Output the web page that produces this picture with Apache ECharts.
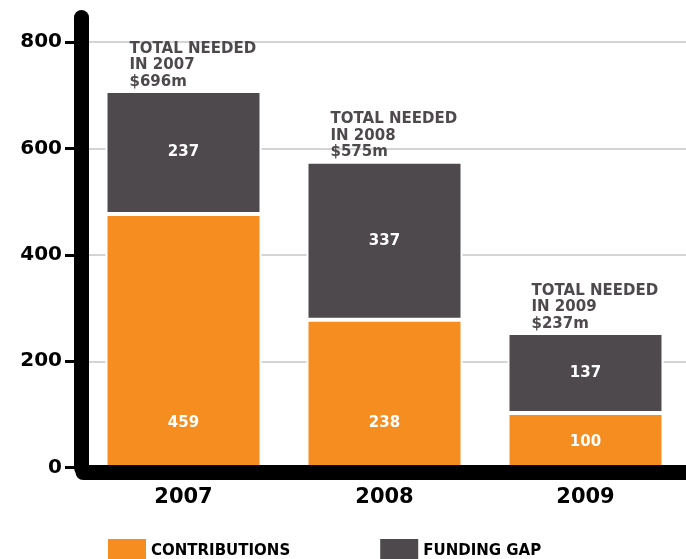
<!DOCTYPE html>
<html>
<head>
  <meta charset="utf-8">
  <title>Total needed</title>
  <script src="https://cdn.jsdelivr.net/npm/echarts@6/dist/echarts.min.js"></script>
  <style>
    html, body { margin: 0; padding: 0; background: #ffffff; }
    #chart { width: 686px; height: 559px; }
  </style>
</head>
<body>
<div id="chart"></div>
<script>
  // years on the x axis
  var years = ['2007', '2008', '2009']
  // bar heights as drawn in the picture
  var contributions = [477, 278, 103]
  var fundingGap = [231, 297, 150]
  // numbers printed on the bars
  var contributionLabels = [459, 238, 100]
  var gapLabels = [237, 337, 137]
  var totals = [696, 575, 237]
  var yTicks = [0, 200, 400, 600, 800]

  var orange = '#f68d21'
  var grey = '#4d494c'
  var font = 'DejaVu Sans'

  var chart = echarts.init(document.getElementById('chart'), null, { renderer: 'canvas' })

  var contribData = contributions.map(function (v, i) {
    var item = { value: v, text: contributionLabels[i] }
    // the small 2009 bar keeps its number closer to the base
    if (v < 150) {
      item.label = { distance: 18 }
    }
    return item
  })
  var gapData = fundingGap.map(function (v, i) {
    return { value: v, text: gapLabels[i], total: totals[i] }
  })

  var option = {
    animation: false,
    grid: [
      { left: 83, right: 0, top: 42, bottom: 91.3 },
      { left: 83, right: 0, top: 17.5, bottom: 91.3 }
    ],
    legend: {
      data: ['CONTRIBUTIONS', 'FUNDING GAP'],
      left: 108,
      top: 539,
      padding: 0,
      icon: 'rect',
      itemWidth: 38,
      itemHeight: 24,
      itemGap: 90,
      itemStyle: { borderWidth: 0 },
      textStyle: { fontFamily: font, fontWeight: 'bold', fontSize: 15, color: '#000' }
    },
    xAxis: [
      {
        type: 'category',
        gridIndex: 0,
        data: years,
        offset: 5,
        z: 4,
        axisLine: { onZero: false, lineStyle: { color: '#000', width: 15, cap: 'round' } },
        axisTick: { show: false },
        axisLabel: { margin: 14, fontFamily: font, fontWeight: 'bold', fontSize: 21, color: '#000' }
      },
      {
        type: 'category',
        gridIndex: 1,
        data: years,
        show: false
      }
    ],
    yAxis: [
      {
        type: 'value',
        gridIndex: 0,
        min: 0,
        max: yTicks[yTicks.length - 1],
        interval: 200,
        offset: 1.5,
        axisLine: { show: false },
        axisTick: { show: true, length: 16.5, lineStyle: { color: '#000', width: 3 } },
        axisLabel: { margin: 19.5, fontFamily: font, fontWeight: 'bold', fontSize: 20, color: '#000' },
        splitLine: { lineStyle: { color: '#d4d4d4', width: 2 } }
      },
      {
        // only the thick black spine, running a bit above 800
        type: 'value',
        gridIndex: 1,
        min: 0,
        max: 1,
        offset: 1.5,
        z: 3,
        axisLine: { show: true, onZero: false, lineStyle: { color: '#000', width: 15, cap: 'round' } },
        axisTick: { show: false },
        axisLabel: { show: false },
        splitLine: { show: false }
      }
    ],
    series: [
      {
        name: 'CONTRIBUTIONS',
        type: 'bar',
        stack: 'total',
        barWidth: 156,
        data: contribData,
        itemStyle: { color: orange, borderColor: '#fff', borderWidth: 2 },
        label: {
          show: true,
          position: 'insideBottom',
          distance: 37.5,
          formatter: function (p) { return p.data.text },
          fontFamily: font,
          fontWeight: 'bold',
          fontSize: 15,
          color: '#fff'
        }
      },
      {
        name: 'FUNDING GAP',
        type: 'bar',
        stack: 'total',
        barWidth: 156,
        data: gapData,
        itemStyle: { color: grey, borderColor: '#fff', borderWidth: 2 },
        label: {
          show: true,
          position: 'inside',
          formatter: function (p) { return p.data.text },
          fontFamily: font,
          fontWeight: 'bold',
          fontSize: 15,
          color: '#fff'
        }
      },
      {
        // invisible copy of the totals, only to carry the "TOTAL NEEDED" notes
        name: 'notes',
        type: 'bar',
        stack: 'notes',
        barWidth: 156,
        barGap: '-100%',
        data: gapData.map(function (d, i) { return { value: contributions[i] + fundingGap[i], total: d.total, year: years[i] } }),
        itemStyle: { color: 'rgba(0,0,0,0)' },
        z: 1,
        silent: true,
        label: {
          show: true,
          position: 'top',
          distance: 1,
          align: 'left',
          offset: [-54, 0],
          lineHeight: 16.5,
          formatter: function (p) {
            return 'TOTAL NEEDED\nIN ' + p.data.year + '\n$' + p.data.total + 'm'
          },
          fontFamily: font,
          fontWeight: 'bold',
          fontSize: 15,
          color: grey
        }
      }
    ]
  }
  chart.setOption(option)
</script>
</body>
</html>
